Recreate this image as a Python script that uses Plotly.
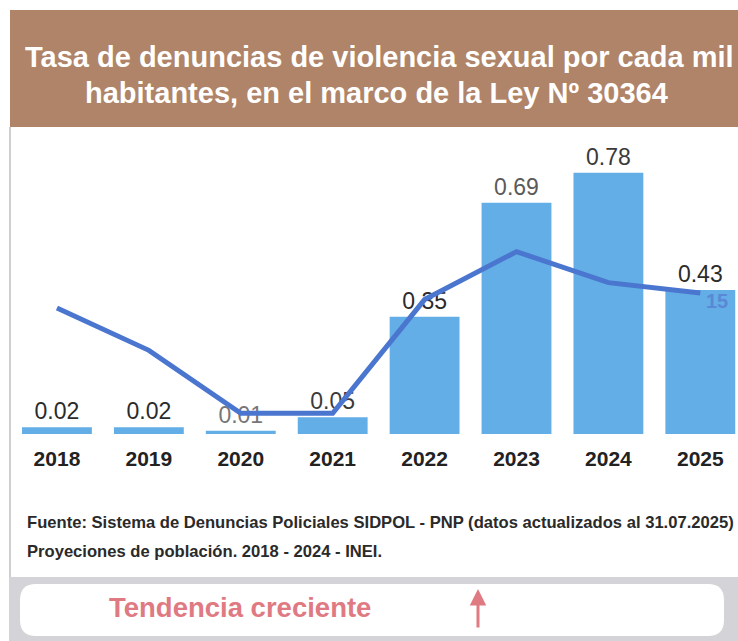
import plotly.graph_objects as go

years = ["2018", "2019", "2020", "2021", "2022", "2023", "2024", "2025"]
tasa = [0.02, 0.02, 0.01, 0.05, 0.35, 0.69, 0.78, 0.43]
bar_labels = ["0.02", "0.02", "0.01", "0.05", "0.35", "0.69", "0.78", "0.43"]
label_colors = ["#2b2b2b", "#2b2b2b", "#777777", "#3a3a3a", "#2b2b2b", "#5a5a5a", "#3a3a3a", "#2b2b2b"]
linea = [13.4, 8.9, 2.2, 2.2, 14.3, 19.4, 16.1, 15.0]
linea_labels = ["", "", "", "", "", "", "", " <b>15</b>"]

W, H = 738, 641
def px(x):
    return x / W
def py(y):
    return 1 - y / H

BAR = "#63AEE6"
LINE = "#4A76CF"

fig = go.Figure()
fig.add_trace(go.Bar(
    x=years, y=tasa, text=bar_labels, textposition="outside",
    textfont=dict(size=23, color=label_colors, family="Liberation Sans, Arial, sans-serif"),
    marker=dict(color=BAR, line=dict(width=0)), width=0.76, cliponaxis=False,
    hoverinfo="skip",
))
fig.add_trace(go.Scatter(
    x=years, y=linea, yaxis="y2", mode="lines+text", text=linea_labels,
    textposition="bottom right",
    textfont=dict(size=20, color="#5A88D6", family="Liberation Sans, Arial, sans-serif"),
    line=dict(color=LINE, width=5), cliponaxis=False, hoverinfo="skip",
))

shapes = [
    dict(type="rect", xref="paper", yref="paper", x0=px(10), x1=px(740), y0=py(127), y1=py(10),
         fillcolor="#AF8469", line=dict(width=0), layer="below"),
    dict(type="line", xref="paper", yref="paper", x0=px(10), x1=px(10), y0=py(577), y1=py(127),
         line=dict(color="#CFCFD2", width=2)),
    dict(type="rect", xref="paper", yref="paper", x0=px(9), x1=px(740), y0=py(641), y1=py(577),
         fillcolor="#D3D3D8", line=dict(width=0), layer="below"),
]
x0, x1, y0, y1, r = 20, 724, 584, 636, 16
path = (f"M {x0+r},{y0} L {x1-r},{y0} Q {x1},{y0} {x1},{y0+r} L {x1},{y1-r} Q {x1},{y1} {x1-r},{y1} "
        f"L {x0+r},{y1} Q {x0},{y1} {x0},{y1-r} L {x0},{y0+r} Q {x0},{y0} {x0+r},{y0} Z")
def conv_path(p):
    out = []
    for tok in p.split(" "):
        if "," in tok:
            a, b = tok.split(",")
            out.append(f"{px(float(a)):.5f},{py(float(b)):.5f}")
        else:
            out.append(tok)
    return " ".join(out)
shapes.append(dict(type="path", xref="paper", yref="paper", path=conv_path(path),
                   fillcolor="#FFFFFF", line=dict(width=0), layer="below"))

TF = "Liberation Sans, Arial, sans-serif"
annotations = [
    dict(text="<b>Tasa de denuncias de violencia sexual por cada mil</b>", x=px(379), y=py(57),
         xref="paper", yref="paper", showarrow=False, font=dict(size=29, color="white", family=TF),
         xanchor="center", yanchor="middle"),
    dict(text="<b>habitantes, en el marco de la Ley Nº 30364</b>", x=px(377), y=py(93),
         xref="paper", yref="paper", showarrow=False, font=dict(size=29, color="white", family=TF),
         xanchor="center", yanchor="middle"),
    dict(text="<b>Fuente: Sistema de Denuncias Policiales SIDPOL - PNP (datos actualizados al 31.07.2025)</b>",
         x=px(25), y=py(522), xref="paper", yref="paper", showarrow=False,
         font=dict(size=16.6, color="#2a2a2a", family=TF), xanchor="left", yanchor="middle"),
    dict(text="<b>Proyeciones de población. 2018 - 2024 - INEI.</b>",
         x=px(25), y=py(551), xref="paper", yref="paper", showarrow=False,
         font=dict(size=16.6, color="#2a2a2a", family=TF), xanchor="left", yanchor="middle"),
    dict(text="<b>Tendencia creciente</b>", x=px(107), y=py(607), xref="paper", yref="paper",
         showarrow=False, font=dict(size=27.5, color="#E07A82", family=TF), xanchor="left", yanchor="middle"),
    dict(text="", x=px(478), y=py(589), xref="paper", yref="paper", showarrow=True,
         ax=0, ay=40, arrowhead=2, arrowsize=1.1, arrowwidth=3, arrowcolor="#E07A82"),
]

fig.update_layout(
    width=W, height=H, margin=dict(l=0, r=0, t=0, b=0),
    paper_bgcolor="white", plot_bgcolor="white", showlegend=False,
    font=dict(family=TF),
    xaxis=dict(domain=[px(11), 1.0], range=[-0.5, 7.41], showgrid=False, zeroline=False,
               showline=False, ticks="", tickfont=dict(size=21, color="#222222", family=TF),
               tickprefix="<b>", ticksuffix="</b>", ticklabelstandoff=10, fixedrange=True),
    yaxis=dict(domain=[py(434), py(140)], range=[0, 294/335], showgrid=False, zeroline=False,
               showticklabels=False, fixedrange=True),
    yaxis2=dict(overlaying="y", range=[0, 294/9.4], showgrid=False, zeroline=False,
                showticklabels=False, fixedrange=True),
    shapes=shapes, annotations=annotations,
)
fig.write_html("out.html", config={"displayModeBar": False},
               post_script="document.body.style.margin='0px';document.body.style.overflow='hidden';")
